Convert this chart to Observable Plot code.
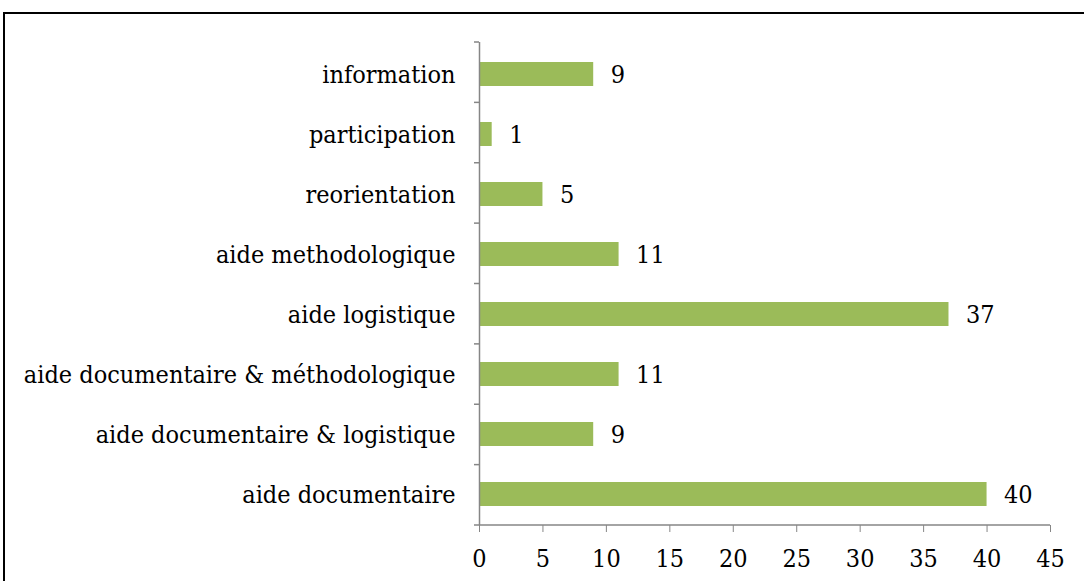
<!DOCTYPE html>
<html>
<head>
<meta charset="utf-8">
<script src="https://cdn.jsdelivr.net/npm/d3@7"></script>
<script src="https://cdn.jsdelivr.net/npm/@observablehq/plot@0.6"></script>
<style>
  html, body { margin: 0; padding: 0; background: #fff; }
  #wrap { position: relative; width: 1084px; height: 581px; overflow: hidden; }
  #frame { position: absolute; left: 3px; top: 12px; width: 1090px; height: 600px; border: 2px solid #000; box-sizing: border-box; }
  #chart { position: absolute; left: 0; top: 0; }
</style>
</head>
<body>
<div id="wrap"><div id="frame"></div><div id="chart"></div></div>
<script>
const categories = [
  "information",
  "participation",
  "reorientation",
  "aide methodologique",
  "aide logistique",
  "aide documentaire & méthodologique",
  "aide documentaire & logistique",
  "aide documentaire"
];
const values = [9, 1, 5, 11, 37, 11, 9, 40];
const xTicks = [0, 5, 10, 15, 20, 25, 30, 35, 40, 45];

const data = categories.map((c, i) => ({category: c, value: values[i]}));
const font = "'DejaVu Serif Condensed', 'DejaVu Serif', serif";
const fs = 25;

const plot = Plot.plot({
  width: 1084,
  height: 581,
  marginLeft: 479,
  marginRight: 34,
  marginTop: 42,
  marginBottom: 56,
  style: {fontFamily: font, fontSize: fs + "px", color: "#000", background: "transparent"},
  x: {domain: [0, 45], ticks: xTicks},
  y: {domain: categories, paddingInner: 0.6, paddingOuter: 0.3, align: 0.5},
  marks: [
    Plot.barX(data, {x: "value", y: "category", fill: "#9BBB59"}),
    Plot.text(data, {x: "value", y: "category", text: d => String(d.value), textAnchor: "start", dx: 17, fill: "#000", fontSize: fs}),
    Plot.axisY({tickSize: 0, tickPadding: 24, label: null, fontSize: fs, fill: "#000"}),
    Plot.axisX({ticks: xTicks, tickSize: 7, tickPadding: 17, label: null, stroke: "#868686", fontSize: fs, fill: "#000"}),
    Plot.ruleX([0], {stroke: "#868686", strokeWidth: 1.5})
  ]
});

// band-boundary ticks on the category axis and the x baseline, from the plot's own scales
const xs = plot.scale("x"), ys = plot.scale("y");
const xScale = d3.scaleLinear(xs.domain, xs.range);
const step = (ys.range[1] - ys.range[0]) / categories.length;
const svg = d3.select(plot);
const x0 = xScale(0);
const g = svg.append("g").attr("stroke", "#868686").attr("stroke-width", 1.5);
const yTop = ys.range[0], yBot = ys.range[1];
g.append("line").attr("x1", x0).attr("x2", xScale(45)).attr("y1", yBot).attr("y2", yBot);
for (let i = 0; i <= categories.length; i++) {
  const yy = yTop + i * step;
  g.append("line").attr("x1", x0 - 5).attr("x2", x0).attr("y1", yy).attr("y2", yy);
}
document.getElementById("chart").appendChild(plot);
</script>
</body>
</html>
